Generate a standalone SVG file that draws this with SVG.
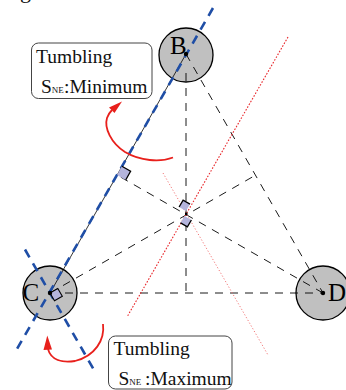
<svg xmlns="http://www.w3.org/2000/svg" width="346" height="390" viewBox="0 0 346 390">
<defs>
<style>
.v{fill:#c0c0c0;stroke:#000;stroke-width:1.3}
.dot{fill:#000}
.lbl{font-family:"Liberation Serif",serif;font-size:25px;fill:#000}
.txt{font-family:"Liberation Serif",serif;font-size:19.5px;fill:#111}
.sub{font-size:9px}
.box{fill:#fff;stroke:#444;stroke-width:1}
.dash{stroke:#000;stroke-width:0.9;stroke-dasharray:8 7;fill:none}
.thin{stroke:#000;stroke-width:0.8;fill:none}
.blue{stroke:#1f4ea6;stroke-width:2.6;stroke-dasharray:9 7;fill:none}
.red1{stroke:#e8262a;stroke-width:1.1;stroke-dasharray:1.6 1.6;fill:none}
.red2{stroke:#f06a6a;stroke-width:0.9;stroke-dasharray:1.2 2;fill:none}
.arr{stroke:#e8201c;stroke-width:1.8;fill:none}
.ah{fill:#e8201c}
.sqf{fill:#b4b4dc;stroke:none}
.sqe{fill:none;stroke:#000;stroke-width:1.3}
.sq{fill:#b4b4dc;stroke:#000;stroke-width:1.1}
</style>
</defs>
<rect width="346" height="390" fill="#fff"/>
<text class="txt" x="20" y="-2" style="font-size:22px">g</text>

<g id="box1">
<rect class="box" x="31.5" y="43" width="120.5" height="55.5" rx="7"/>
<text class="txt" x="36" y="63">Tumbling</text>
<text class="txt" x="41" y="93">S<tspan class="sub">NE</tspan><tspan x="64">:Minimum</tspan></text>
</g>
<g id="box2">
<rect class="box" x="108.5" y="336" width="123.5" height="53" rx="7"/>
<text class="txt" x="113.5" y="355">Tumbling</text>
<text class="txt" x="118.5" y="385">S<tspan class="sub">NE</tspan><tspan x="145">:Maximum</tspan></text>
</g>

<g id="nodeB"><circle class="v" cx="186" cy="55" r="27"/><text class="lbl" x="170" y="53.5">B</text></g>
<g id="nodeC"><circle class="v" cx="50" cy="293" r="27"/><text class="lbl" x="22.5" y="301">C</text></g>
<g id="nodeD"><circle class="v" cx="323" cy="293" r="27"/><text class="lbl" x="328" y="301">D</text></g>

<g id="connectors">
<path class="thin" d="M186,54 L50,293"/>
<path class="dash" d="M186,54 L323,293"/>
<path class="dash" d="M50,293 L323,293"/>
<path class="dash" d="M186,73 L186,293"/>
<path class="dash" d="M323,293 L117,175"/>
<path class="dash" d="M50,293 L255.5,175.2"/>
<path class="red1" d="M288,37 L127,317"/>
<path class="red2" d="M163,173 L268,355"/>
<path class="blue" d="M213,8 L17,349"/>
<path class="blue" d="M25,249.5 L94,370"/>
<path class="arr" d="M173,157.5 C160,162.5 140,161 125,152 C111,143 104,128 107,118 C108,115 110,112 112,110"/>
<polygon class="ah" points="122,101.5 109,107.5 114.5,113"/>
<path class="arr" d="M103,324 C105,340 95,356 75,361 C62,363 51,360 48,349"/>
<polygon class="ah" points="47.3,335.5 43.5,350 52,349.5"/>
</g>

<g id="marks">
<polygon class="sqf" points="117,175 121.9,166.3 130.6,171.3 125.7,180"/>
<polyline class="sqe" points="121.9,166.3 130.6,171.3 125.7,180"/>
<polygon class="sqf" points="186,211 190,204.1 183.1,200.1 179.1,207"/>
<polyline class="sqe" points="190,204.1 183.1,200.1 179.1,207"/>
<polygon class="sqf" points="184.5,216 191.4,220 187.4,226.9 180.5,222.9"/>
<polyline class="sqe" points="191.4,220 187.4,226.9 180.5,222.9"/>
<rect x="185" y="212.5" width="2.5" height="2.5" fill="#000"/>
<polygon class="sq" points="50,293 57.8,288.5 62.3,296.3 54.5,300.8"/>
</g>

<circle class="dot" cx="186" cy="54" r="2.2"/>
<circle class="dot" cx="50" cy="293" r="2.2"/>
<circle class="dot" cx="323" cy="293" r="2.2"/>
</svg>
